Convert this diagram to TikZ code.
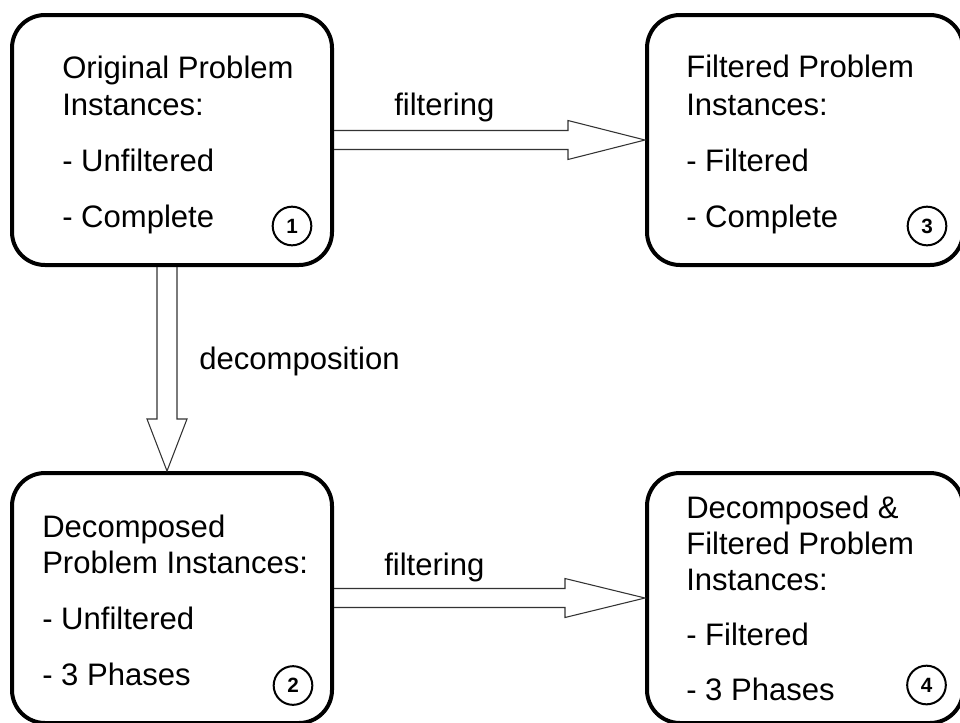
\documentclass[tikz,border=0pt]{standalone}
\usepackage{fontspec}
\setmainfont{Liberation Sans}
\usetikzlibrary{calc}

\tikzset{
  stagebox/.style={draw=black, line width=3pt, rounded corners=24.75pt,
    rectangle, inner sep=0pt},
  line/.style={anchor=base west, inner sep=0pt,
    font=\fontsize{23.3}{28}\selectfont},
  tag/.style={draw=black, line width=1.5pt, circle, inner sep=0pt,
    minimum size=29pt, font=\fontsize{15.5}{17}\selectfont\bfseries},
  blockarrow/.style={draw=black!80, line width=0.8pt, line join=miter}
}

\begin{document}
\begin{tikzpicture}[x=0.75pt, y=-0.75pt]
\useasboundingbox (0,0) rectangle (960,722);

% the four stages
\node[stagebox, minimum width=240pt, minimum height=187.5pt] (b1) at (172,140) {};
\node[stagebox, minimum width=237pt, minimum height=187.5pt] (b3) at (805,140) {};
\node[stagebox, minimum width=240pt, minimum height=187.5pt] (b2) at (172,598) {};
\node[stagebox, minimum width=237pt, minimum height=187.5pt] (b4) at (805,598) {};

% filtering: stage 1 -> stage 3
\draw[blockarrow]
  ($(b1.east)+(0,-9.5)$) -- ($(b3.west)+(-77,-9.5)$) -- ($(b3.west)+(-77,-19.5)$)
  -- (b3.west) -- ($(b3.west)+(-77,19.5)$) -- ($(b3.west)+(-77,9.5)$)
  -- ($(b1.east)+(0,9.5)$);

% filtering: stage 2 -> stage 4
\draw[blockarrow]
  ($(b2.east)+(0,-9.5)$) -- ($(b4.west)+(-80,-9.5)$) -- ($(b4.west)+(-80,-19.5)$)
  -- (b4.west) -- ($(b4.west)+(-80,19.5)$) -- ($(b4.west)+(-80,9.5)$)
  -- ($(b2.east)+(0,9.5)$);

% decomposition: stage 1 -> stage 2
\draw[blockarrow]
  ($(b1.south)+(-15,0)$) -- ($(b2.north)+(-15,-52)$) -- ($(b2.north)+(-25,-52)$)
  -- ($(b2.north)+(-5,0)$) -- ($(b2.north)+(15,-52)$) -- ($(b2.north)+(5,-52)$)
  -- ($(b1.south)+(5,0)$);

% arrow labels
\node[line] (lf1) at (394,115) {filtering};
\node[line] (lf2) at (384,575) {filtering};
\node[line] (ld)  at (199,369) {decomposition};

% stage 1 text
\node[line] (t11) at (62,78)  {Original Problem};
\node[line] (t12) at (62,115) {Instances:};
\node[line] (t13) at (62,171) {- Unfiltered};
\node[line] (t14) at (62,227) {- Complete};

% stage 3 text
\node[line] (t31) at (686,77)  {Filtered Problem};
\node[line] (t32) at (686,115) {Instances:};
\node[line] (t33) at (686,171) {- Filtered};
\node[line] (t34) at (686,227) {- Complete};

% stage 2 text
\node[line] (t21) at (42,537) {Decomposed};
\node[line] (t22) at (42,573) {Problem Instances:};
\node[line] (t23) at (42,629) {- Unfiltered};
\node[line] (t24) at (42,685) {- 3 Phases};

% stage 4 text
\node[line] (t41) at (686,518) {Decomposed \&};
\node[line] (t42) at (686,554) {Filtered Problem};
\node[line] (t43) at (686,590) {Instances:};
\node[line] (t44) at (686,645) {- Filtered};
\node[line] (t45) at (686,700) {- 3 Phases};

% stage numbers
\node[tag] (n1) at (292,226) {1};
\node[tag] (n3) at (927,226) {3};
\node[tag] (n2) at (293,685.5) {2};
\node[tag] (n4) at (926.5,685) {4};
\end{tikzpicture}
\end{document}
